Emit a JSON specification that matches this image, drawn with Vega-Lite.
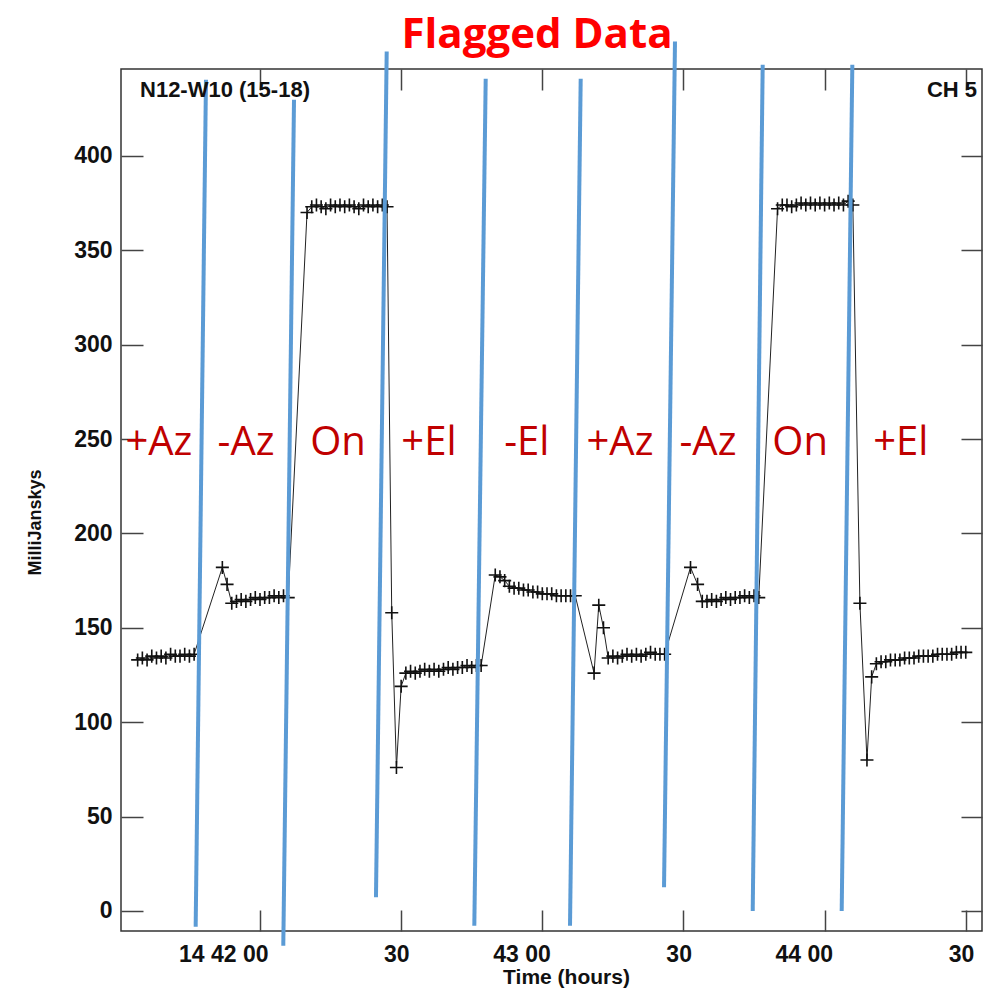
{
  "$schema": "https://vega.github.io/schema/vega-lite/v6.json",
  "width": 861,
  "height": 862,
  "autosize": {"type": "none"},
  "padding": {"left": 121, "top": 69, "right": 2, "bottom": 57},
  "background": "white",
  "config": {
    "view": {"stroke": "#333", "strokeWidth": 1.5},
    "font": "Liberation Sans"
  },
  "datasets": {
    "series": [
      {"t": -26, "v": 133}, {"t": -25, "v": 134}, {"t": -24, "v": 133}, {"t": -23, "v": 135}, {"t": -22, "v": 134},
      {"t": -21, "v": 135}, {"t": -20, "v": 134}, {"t": -19, "v": 136}, {"t": -18, "v": 135}, {"t": -17, "v": 135},
      {"t": -16, "v": 136}, {"t": -15, "v": 135}, {"t": -14, "v": 136},
      {"t": -8, "v": 182}, {"t": -7, "v": 173},
      {"t": -6, "v": 163}, {"t": -5, "v": 164}, {"t": -4, "v": 165}, {"t": -3, "v": 164}, {"t": -2, "v": 165},
      {"t": -1, "v": 166}, {"t": 0, "v": 165}, {"t": 1, "v": 166}, {"t": 2, "v": 166}, {"t": 3, "v": 167},
      {"t": 4, "v": 166}, {"t": 5, "v": 167}, {"t": 6, "v": 166},
      {"t": 10, "v": 370}, {"t": 11, "v": 373}, {"t": 12, "v": 374}, {"t": 13, "v": 373}, {"t": 14, "v": 372},
      {"t": 15, "v": 374}, {"t": 16, "v": 373}, {"t": 17, "v": 374}, {"t": 18, "v": 373}, {"t": 19, "v": 374},
      {"t": 20, "v": 373}, {"t": 21, "v": 372}, {"t": 22, "v": 374}, {"t": 23, "v": 373}, {"t": 24, "v": 374},
      {"t": 25, "v": 373}, {"t": 26, "v": 374}, {"t": 27, "v": 373},
      {"t": 28, "v": 158}, {"t": 29, "v": 76}, {"t": 30, "v": 119},
      {"t": 31, "v": 126}, {"t": 32, "v": 127}, {"t": 33, "v": 126}, {"t": 34, "v": 127}, {"t": 35, "v": 128},
      {"t": 36, "v": 127}, {"t": 37, "v": 128}, {"t": 38, "v": 127}, {"t": 39, "v": 128}, {"t": 40, "v": 129},
      {"t": 41, "v": 128}, {"t": 42, "v": 129}, {"t": 43, "v": 129}, {"t": 44, "v": 130}, {"t": 45, "v": 129},
      {"t": 46, "v": 130}, {"t": 47, "v": 130},
      {"t": 50, "v": 178}, {"t": 51, "v": 177}, {"t": 52, "v": 175}, {"t": 53, "v": 172}, {"t": 54, "v": 171},
      {"t": 55, "v": 171}, {"t": 56, "v": 170}, {"t": 57, "v": 170}, {"t": 58, "v": 169}, {"t": 59, "v": 169},
      {"t": 60, "v": 168}, {"t": 61, "v": 168}, {"t": 62, "v": 168}, {"t": 63, "v": 167}, {"t": 64, "v": 167},
      {"t": 65, "v": 167}, {"t": 66, "v": 167}, {"t": 67, "v": 167},
      {"t": 71, "v": 126}, {"t": 72, "v": 162}, {"t": 73, "v": 150},
      {"t": 74, "v": 134}, {"t": 75, "v": 135}, {"t": 76, "v": 134}, {"t": 77, "v": 135}, {"t": 78, "v": 136},
      {"t": 79, "v": 135}, {"t": 80, "v": 136}, {"t": 81, "v": 135}, {"t": 82, "v": 136}, {"t": 83, "v": 137},
      {"t": 84, "v": 136}, {"t": 85, "v": 136}, {"t": 86, "v": 136},
      {"t": 91.5, "v": 182}, {"t": 93, "v": 173},
      {"t": 94, "v": 164}, {"t": 95, "v": 164}, {"t": 96, "v": 165}, {"t": 97, "v": 164}, {"t": 98, "v": 165},
      {"t": 99, "v": 166}, {"t": 100, "v": 165}, {"t": 101, "v": 166}, {"t": 102, "v": 166}, {"t": 103, "v": 167},
      {"t": 104, "v": 166}, {"t": 105, "v": 167}, {"t": 106, "v": 166},
      {"t": 110, "v": 372}, {"t": 111, "v": 374}, {"t": 112, "v": 374}, {"t": 113, "v": 373}, {"t": 114, "v": 374},
      {"t": 115, "v": 375}, {"t": 116, "v": 374}, {"t": 117, "v": 375}, {"t": 118, "v": 374}, {"t": 119, "v": 375},
      {"t": 120, "v": 374}, {"t": 121, "v": 375}, {"t": 122, "v": 374}, {"t": 123, "v": 375}, {"t": 124, "v": 374},
      {"t": 125, "v": 376}, {"t": 126, "v": 374},
      {"t": 127.5, "v": 163}, {"t": 129, "v": 80}, {"t": 130, "v": 124},
      {"t": 131, "v": 131}, {"t": 132, "v": 132}, {"t": 133, "v": 132}, {"t": 134, "v": 133}, {"t": 135, "v": 133},
      {"t": 136, "v": 133}, {"t": 137, "v": 134}, {"t": 138, "v": 134}, {"t": 139, "v": 134}, {"t": 140, "v": 135},
      {"t": 141, "v": 135}, {"t": 142, "v": 135}, {"t": 143, "v": 135}, {"t": 144, "v": 136}, {"t": 145, "v": 136},
      {"t": 146, "v": 136}, {"t": 147, "v": 136}, {"t": 148, "v": 137}, {"t": 149, "v": 137}, {"t": 150, "v": 137}
    ],
    "flags": [
      {"t1": -11.48, "v1": 440.3, "t2": -13.67, "v2": -8.3},
      {"t1": 7.23, "v1": 429.7, "t2": 4.95, "v2": -18.4},
      {"t1": 26.93, "v1": 455.3, "t2": 24.65, "v2": 7.3},
      {"t1": 47.97, "v1": 440.8, "t2": 45.55, "v2": -7.8},
      {"t1": 68.16, "v1": 440.8, "t2": 65.89, "v2": -7.8},
      {"t1": 88.2, "v1": 460.6, "t2": 85.87, "v2": 12.6},
      {"t1": 106.84, "v1": 448.2, "t2": 104.72, "v2": 0},
      {"t1": 125.89, "v1": 448.2, "t2": 123.63, "v2": 0}
    ],
    "labels": [
      {"t": -21.5, "v": 241.5, "text": "+Az"},
      {"t": -2.98, "v": 241.5, "text": "-Az"},
      {"t": 16.58, "v": 241.5, "text": "On"},
      {"t": 35.9, "v": 241.5, "text": "+El"},
      {"t": 56.7, "v": 241.5, "text": "-El"},
      {"t": 76.5, "v": 241.5, "text": "+Az"},
      {"t": 95.2, "v": 241.5, "text": "-Az"},
      {"t": 114.8, "v": 241.5, "text": "On"},
      {"t": 136.2, "v": 241.5, "text": "+El"}
    ],
    "title": [{"t": 58.87, "v": 457.2, "text": "Flagged Data"}],
    "cornerLeft": [{"t": -25.5, "v": 431.1, "text": "N12-W10 (15-18)"}],
    "cornerRight": [{"t": 152.4, "v": 431.1, "text": "CH 5"}]
  },
  "resolve": {"axis": {"x": "independent", "y": "independent"}},
  "layer": [
    {
      "data": {"name": "series"},
      "mark": {"type": "line", "color": "#222", "strokeWidth": 1},
      "encoding": {
        "x": {
          "field": "t", "type": "quantitative",
          "scale": {"domain": [-29.54, 153.45], "nice": false, "zero": false},
          "axis": {
            "orient": "bottom", "values": [0, 30, 60, 90, 120, 150],
            "labelExpr": "datum.value == 0 ? '14 42 00' : datum.value == 60 ? '43 00' : datum.value == 120 ? '44 00' : '30'",
            "grid": false, "domain": false, "tickSize": -21, "tickColor": "#444", "tickWidth": 1.5,
            "labelFont": "Liberation Sans", "labelFontWeight": "bold", "labelFontSize": 23, "labelColor": "#111",
            "labelAlign": "right", "labelOffset": 8, "labelPadding": 33, "labelFlush": false, "labelOverlap": false,
            "title": "Time (hours)", "titleFont": "Liberation Sans", "titleFontWeight": "bold", "titleFontSize": 21,
            "titleColor": "#111", "titleX": 445, "titleY": 46, "titleBaseline": "middle", "titleAlign": "center"
          }
        },
        "y": {
          "field": "v", "type": "quantitative",
          "scale": {"domain": [-10.6, 446.0], "nice": false, "zero": false},
          "axis": {
            "orient": "left", "values": [0, 50, 100, 150, 200, 250, 300, 350, 400],
            "grid": false, "domain": false, "tickSize": -22, "tickColor": "#444", "tickWidth": 1.5,
            "labelFont": "Liberation Sans", "labelFontWeight": "bold", "labelFontSize": 23, "labelColor": "#111",
            "labelPadding": 31, "labelFlush": false, "labelOverlap": false,
            "title": "MilliJanskys", "titleFont": "Liberation Sans", "titleFontWeight": "bold", "titleFontSize": 18,
            "titleColor": "#111", "titleX": -86, "titleY": 453, "titleAngle": -90, "titleBaseline": "middle", "titleAlign": "center"
          }
        }
      }
    },
    {
      "data": {"name": "series"},
      "mark": {"type": "point", "shape": "M-1,0L1,0M0,-1L0,1", "filled": false, "stroke": "#111", "strokeWidth": 1.6, "size": 170, "opacity": 1},
      "encoding": {
        "x": {"field": "t", "type": "quantitative", "axis": null},
        "y": {"field": "v", "type": "quantitative", "axis": null}
      }
    },
    {
      "data": {"name": "flags"},
      "mark": {"type": "rule", "color": "#5B9BD5", "strokeWidth": 4},
      "encoding": {
        "x": {"field": "t1", "type": "quantitative",
          "axis": {"orient": "top", "values": [0, 30, 60, 90, 120, 150], "labels": false, "grid": false, "domain": false,
            "tickSize": -21, "tickColor": "#444", "tickWidth": 1.5, "title": null}},
        "y": {"field": "v1", "type": "quantitative",
          "axis": {"orient": "right", "values": [0, 50, 100, 150, 200, 250, 300, 350, 400], "labels": false, "grid": false, "domain": false,
            "tickSize": -21, "tickColor": "#444", "tickWidth": 1.5, "title": null}},
        "x2": {"field": "t2"},
        "y2": {"field": "v2"}
      }
    },
    {
      "data": {"name": "labels"},
      "mark": {"type": "text", "font": "Open Sans", "fontSize": 40, "color": "#C00000", "align": "center", "baseline": "alphabetic"},
      "encoding": {
        "x": {"field": "t", "type": "quantitative", "axis": null},
        "y": {"field": "v", "type": "quantitative", "axis": null},
        "text": {"field": "text"}
      }
    },
    {
      "data": {"name": "title"},
      "mark": {"type": "text", "font": "Open Sans", "fontWeight": "bold", "fontSize": 42, "color": "#FF0000", "align": "center", "baseline": "alphabetic"},
      "encoding": {
        "x": {"field": "t", "type": "quantitative", "axis": null},
        "y": {"field": "v", "type": "quantitative", "axis": null},
        "text": {"field": "text"}
      }
    },
    {
      "data": {"name": "cornerLeft"},
      "mark": {"type": "text", "font": "Liberation Sans", "fontWeight": "bold", "fontSize": 22, "color": "#111", "align": "left", "baseline": "alphabetic"},
      "encoding": {
        "x": {"field": "t", "type": "quantitative", "axis": null},
        "y": {"field": "v", "type": "quantitative", "axis": null},
        "text": {"field": "text"}
      }
    },
    {
      "data": {"name": "cornerRight"},
      "mark": {"type": "text", "font": "Liberation Sans", "fontWeight": "bold", "fontSize": 22, "color": "#111", "align": "right", "baseline": "alphabetic"},
      "encoding": {
        "x": {"field": "t", "type": "quantitative", "axis": null},
        "y": {"field": "v", "type": "quantitative", "axis": null},
        "text": {"field": "text"}
      }
    }
  ]
}
